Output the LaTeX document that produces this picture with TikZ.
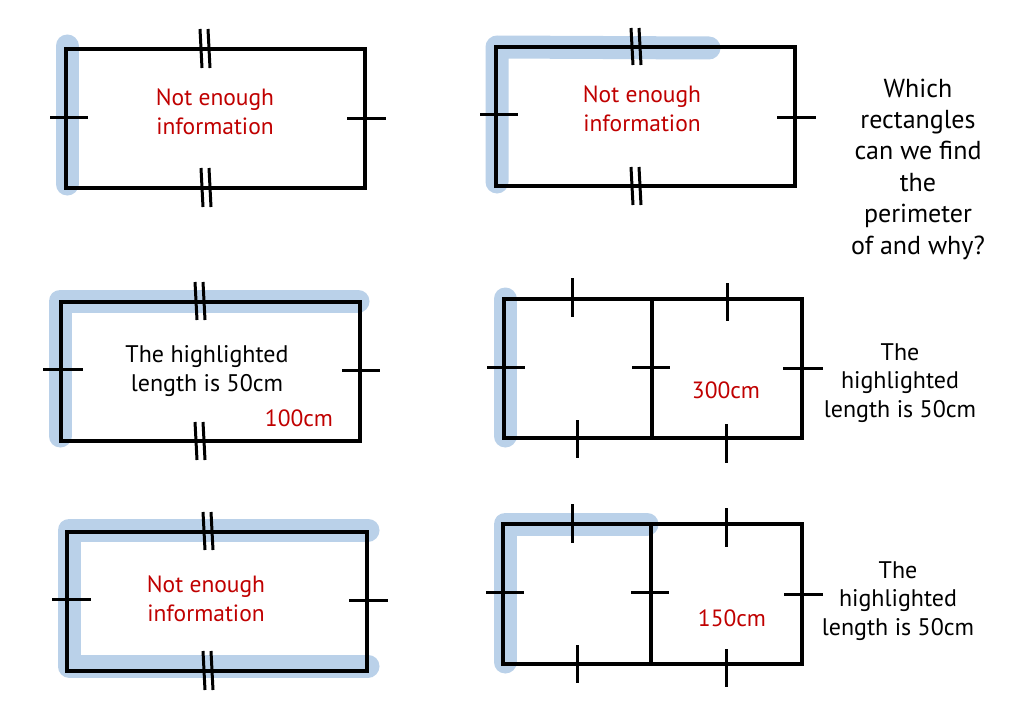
\documentclass[tikz,border=0pt]{standalone}
\usepackage{fontspec}
\setmainfont{PT Sans}
\definecolor{hlblue}{HTML}{BAD1E9}
\definecolor{redtxt}{HTML}{C00000}
\tikzset{
  outline/.style={line width=3.2pt, black, line join=miter},
  tickmark/.style={line width=3pt, black},
  hl/.style={line width=23pt, hlblue, line cap=round, line join=round},
  redlabel/.style={text=redtxt, align=center, font=\fontsize{23.5}{28.5}\selectfont, inner sep=0pt},
  blacklabel/.style={text=black, align=center, font=\fontsize{24}{28.5}\selectfont, inner sep=0pt},
  qlabel/.style={text=black, align=center, font=\fontsize{26}{31.4}\selectfont, inner sep=0pt}
}
\newcommand{\dtick}[3]{% x, y1, y2 : double slanted tick
  \draw[tickmark] (#1-5,#2) -- (#1-3,#3);
  \draw[tickmark] (#1+3,#2) -- (#1+5,#3);}
\begin{document}
\begin{tikzpicture}[x=1pt,y=-1pt]
\useasboundingbox (0,0) rectangle (1024,709);
\fill[white] (0,0) rectangle (1024,709);

% ---------- Rectangle 1 ----------
\draw[hl] (67,46) -- (67,184);
\draw[outline] (66,49) rectangle (365,188);
\draw[tickmark] (50,117) -- (88,117);
\draw[tickmark] (347,118) -- (386,118);
\dtick{205}{29}{68}
\dtick{206}{168}{207}
\node[redlabel] (t1) at (215,112) {Not enough\\information};

% ---------- Rectangle 2 ----------
\draw[hl] (497,182) -- (497,47) -- (709,48);
\draw[outline] (496,47) rectangle (795,186);
\draw[tickmark] (480,114) -- (518,114);
\draw[tickmark] (777,117) -- (816,117);
\dtick{636}{28}{65}
\dtick{636}{167}{205}
\node[redlabel] (t2) at (642,109) {Not enough\\information};

% ---------- Rectangle 3 ----------
\draw[hl] (60,436) -- (60,301) -- (358,301);
\draw[outline] (61,302) rectangle (360,441);
\draw[tickmark] (43,369) -- (83,369);
\draw[tickmark] (342,370) -- (380,370);
\dtick{200}{282}{320}
\dtick{200}{422}{460}
\node[blacklabel] (t3) at (207,371) {The highlighted\\length is 50cm};
\node[redlabel] (t3b) at (299,418) {100cm};

% ---------- Rectangle 4 ----------
\draw[hl] (505,299) -- (505,436);
\draw[outline] (504,299) rectangle (802,438);
\draw[outline] (652,299) -- (652,438);
\draw[tickmark] (572,278) -- (572,317);
\draw[tickmark] (727,283) -- (727,321);
\draw[tickmark] (577,420) -- (577,458);
\draw[tickmark] (726,424) -- (726,463);
\draw[tickmark] (487,367) -- (525,367);
\draw[tickmark] (632,367) -- (670,367);
\draw[tickmark] (783,368) -- (823,368);
\node[redlabel] (t4) at (726,390) {300cm};

% ---------- Rectangle 5 ----------
\draw[hl] (368,530) -- (69,530) -- (69,666) -- (368,666);
\draw[outline] (67,532) rectangle (367,671);
\draw[tickmark] (52,599) -- (91,599);
\draw[tickmark] (349,600) -- (388,600);
\dtick{208}{512}{550}
\dtick{208}{651}{690}
\node[redlabel] (t5) at (206,599) {Not enough\\information};

% ---------- Rectangle 6 ----------
\draw[hl] (505,662) -- (505,524) -- (647,524);
\draw[outline] (503,524) rectangle (802,664);
\draw[outline] (651,524) -- (651,664);
\draw[tickmark] (572,504) -- (572,543);
\draw[tickmark] (726,508) -- (726,547);
\draw[tickmark] (577,645) -- (577,683);
\draw[tickmark] (726,649) -- (726,687);
\draw[tickmark] (486,592) -- (524,592);
\draw[tickmark] (631,592) -- (669,592);
\draw[tickmark] (784,594) -- (823,594);
\node[redlabel] (t6) at (732,618) {150cm};

% ---------- Right-hand texts ----------
\node[qlabel] (q) at (918,169) {Which\\rectangles\\can we find\\the\\perimeter\\of and why?};
\node[blacklabel] (h1) at (900,383) {The\\highlighted\\length is 50cm};
\node[blacklabel] (h2) at (898,601) {The\\highlighted\\length is 50cm};
\end{tikzpicture}
\end{document}
